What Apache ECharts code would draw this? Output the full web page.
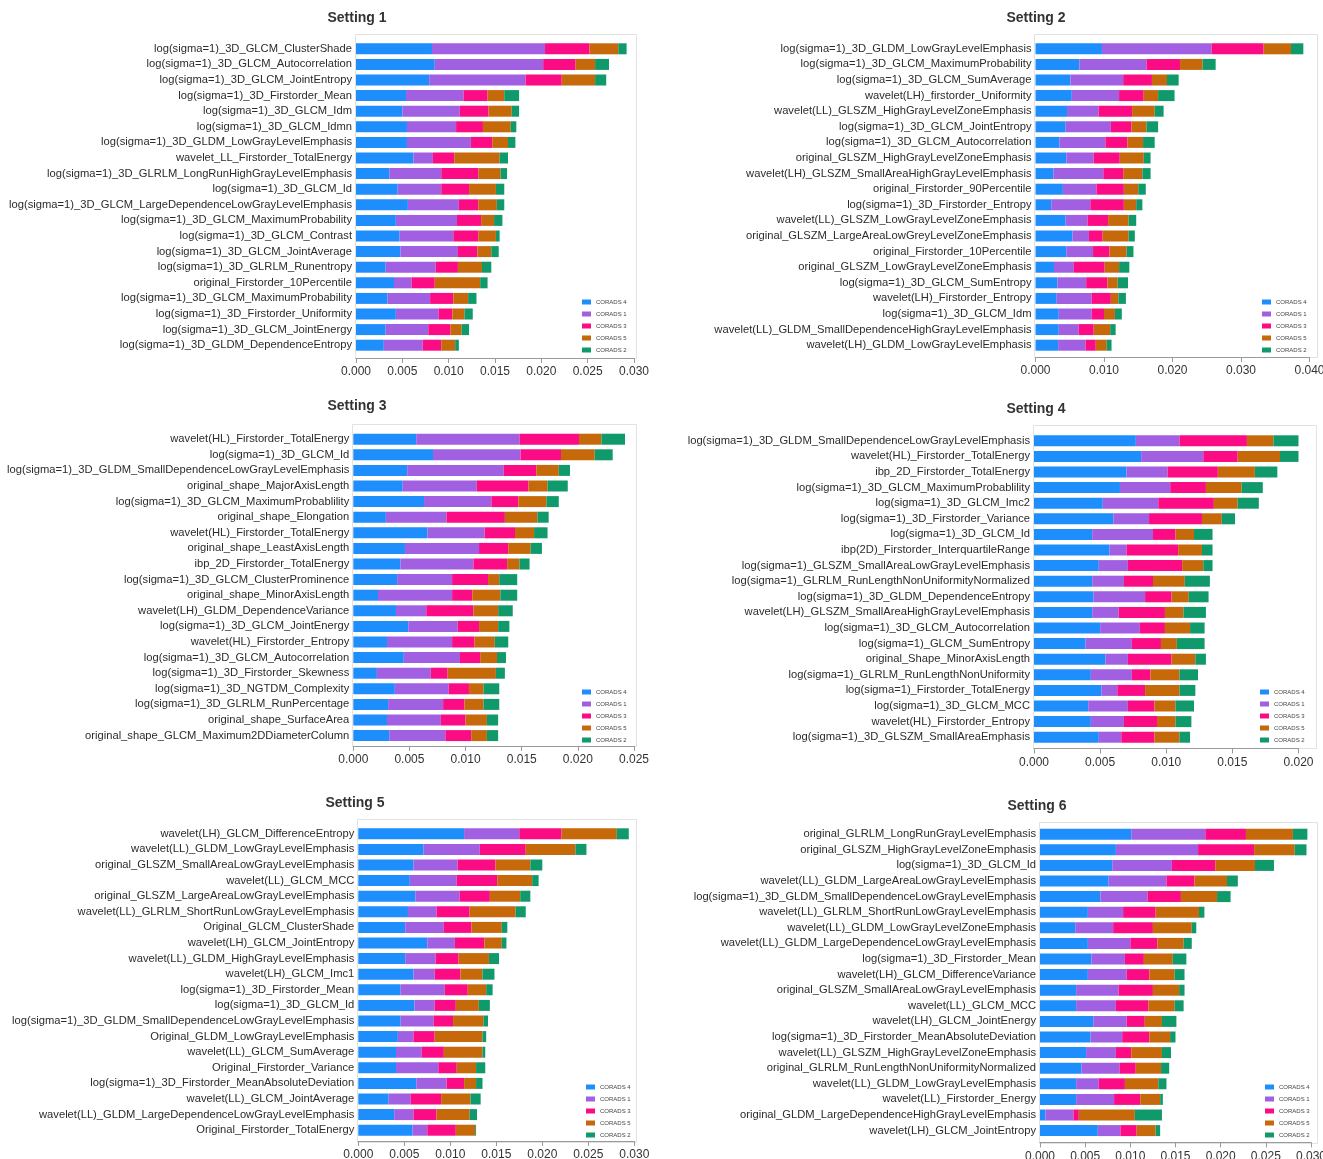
<!DOCTYPE html>
<html>
<head>
<meta charset="utf-8">
<title>CORADS feature contributions</title>
<script src="https://cdn.jsdelivr.net/npm/echarts@6/dist/echarts.min.js"></script>
<style>
  html, body { margin: 0; padding: 0; background: #fff; }
  #chart { width: 1323px; height: 1159px; }
</style>
</head>
<body>
<div id="chart"></div>
<script>
const fontFamily = '"Liberation Sans", Arial, sans-serif';

const seriesNames = ['CORADS 4', 'CORADS 1', 'CORADS 3', 'CORADS 5', 'CORADS 2'];
const seriesColors = ['#1e8efc', '#a15fe2', '#fb0b84', '#c5690b', '#10996b'];

// ---- Setting 1 ----
const s1Labels = [
  'log(sigma=1)_3D_GLCM_ClusterShade',
  'log(sigma=1)_3D_GLCM_Autocorrelation',
  'log(sigma=1)_3D_GLCM_JointEntropy',
  'log(sigma=1)_3D_Firstorder_Mean',
  'log(sigma=1)_3D_GLCM_Idm',
  'log(sigma=1)_3D_GLCM_Idmn',
  'log(sigma=1)_3D_GLDM_LowGrayLevelEmphasis',
  'wavelet_LL_Firstorder_TotalEnergy',
  'log(sigma=1)_3D_GLRLM_LongRunHighGrayLevelEmphasis',
  'log(sigma=1)_3D_GLCM_Id',
  'log(sigma=1)_3D_GLCM_LargeDependenceLowGrayLevelEmphasis',
  'log(sigma=1)_3D_GLCM_MaximumProbability',
  'log(sigma=1)_3D_GLCM_Contrast',
  'log(sigma=1)_3D_GLCM_JointAverage',
  'log(sigma=1)_3D_GLRLM_Runentropy',
  'original_Firstorder_10Percentile',
  'log(sigma=1)_3D_GLCM_MaximumProbability',
  'log(sigma=1)_3D_Firstorder_Uniformity',
  'log(sigma=1)_3D_GLCM_JointEnergy',
  'log(sigma=1)_3D_GLDM_DependenceEntropy'
];
const s1Corads4 = [0.0082, 0.0085, 0.0079, 0.0054, 0.0050, 0.0055, 0.0055, 0.0062, 0.0036, 0.0045, 0.0056, 0.0043, 0.0047, 0.0048, 0.0032, 0.0041, 0.0034, 0.0043, 0.0032, 0.0030];
const s1Corads1 = [0.0122, 0.0117, 0.0104, 0.0062, 0.0062, 0.0053, 0.0069, 0.0021, 0.0056, 0.0047, 0.0055, 0.0066, 0.0058, 0.0062, 0.0054, 0.0019, 0.0046, 0.0046, 0.0046, 0.0042];
const s1Corads3 = [0.0048, 0.0035, 0.0039, 0.0026, 0.0031, 0.0029, 0.0023, 0.0023, 0.0040, 0.0030, 0.0021, 0.0026, 0.0027, 0.0021, 0.0024, 0.0025, 0.0025, 0.0015, 0.0024, 0.0020];
const s1Corads5 = [0.0031, 0.0021, 0.0036, 0.0018, 0.0025, 0.0030, 0.0017, 0.0049, 0.0024, 0.0029, 0.0020, 0.0014, 0.0019, 0.0015, 0.0026, 0.0049, 0.0016, 0.0013, 0.0012, 0.0015];
const s1Corads2 = [0.0009, 0.0015, 0.0012, 0.0016, 0.0008, 0.0006, 0.0008, 0.0009, 0.0007, 0.0009, 0.0008, 0.0009, 0.0004, 0.0008, 0.0010, 0.0008, 0.0009, 0.0009, 0.0008, 0.0004];

// ---- Setting 2 ----
const s2Labels = [
  'log(sigma=1)_3D_GLDM_LowGrayLevelEmphasis',
  'log(sigma=1)_3D_GLCM_MaximumProbability',
  'log(sigma=1)_3D_GLCM_SumAverage',
  'wavelet(LH)_firstorder_Uniformity',
  'wavelet(LL)_GLSZM_HighGrayLevelZoneEmphasis',
  'log(sigma=1)_3D_GLCM_JointEntropy',
  'log(sigma=1)_3D_GLCM_Autocorrelation',
  'original_GLSZM_HighGrayLevelZoneEmphasis',
  'wavelet(LH)_GLSZM_SmallAreaHighGrayLevelEmphasis',
  'original_Firstorder_90Percentile',
  'log(sigma=1)_3D_Firstorder_Entropy',
  'wavelet(LL)_GLSZM_LowGrayLevelZoneEmphasis',
  'original_GLSZM_LargeAreaLowGreyLevelZoneEmphasis',
  'original_Firstorder_10Percentile',
  'original_GLSZM_LowGrayLevelZoneEmphasis',
  'log(sigma=1)_3D_GLCM_SumEntropy',
  'wavelet(LH)_Firstorder_Entropy',
  'log(sigma=1)_3D_GLCM_Idm',
  'wavelet(LL)_GLDM_SmallDependenceHighGrayLevelEmphasis',
  'wavelet(LH)_GLDM_LowGrayLevelEmphasis'
];
const s2Corads4 = [0.0097, 0.0064, 0.0051, 0.0053, 0.0046, 0.0044, 0.0035, 0.0045, 0.0026, 0.0040, 0.0023, 0.0044, 0.0054, 0.0045, 0.0027, 0.0032, 0.0031, 0.0034, 0.0034, 0.0033];
const s2Corads1 = [0.0160, 0.0098, 0.0077, 0.0069, 0.0046, 0.0066, 0.0067, 0.0040, 0.0073, 0.0049, 0.0057, 0.0032, 0.0024, 0.0039, 0.0029, 0.0042, 0.0051, 0.0048, 0.0029, 0.0040];
const s2Corads3 = [0.0076, 0.0049, 0.0042, 0.0036, 0.0049, 0.0030, 0.0032, 0.0038, 0.0029, 0.0040, 0.0049, 0.0030, 0.0020, 0.0024, 0.0045, 0.0031, 0.0028, 0.0018, 0.0022, 0.0015];
const s2Corads5 = [0.0040, 0.0033, 0.0022, 0.0021, 0.0033, 0.0022, 0.0023, 0.0035, 0.0028, 0.0021, 0.0018, 0.0030, 0.0038, 0.0025, 0.0021, 0.0015, 0.0011, 0.0016, 0.0024, 0.0016];
const s2Corads2 = [0.0018, 0.0019, 0.0017, 0.0024, 0.0013, 0.0017, 0.0017, 0.0010, 0.0012, 0.0011, 0.0009, 0.0011, 0.0009, 0.0010, 0.0015, 0.0015, 0.0011, 0.0010, 0.0008, 0.0007];

// ---- Setting 3 ----
const s3Labels = [
  'wavelet(HL)_Firstorder_TotalEnergy',
  'log(sigma=1)_3D_GLCM_Id',
  'log(sigma=1)_3D_GLDM_SmallDependenceLowGrayLevelEmphasis',
  'original_shape_MajorAxisLength',
  'log(sigma=1)_3D_GLCM_MaximumProbablility',
  'original_shape_Elongation',
  'wavelet(HL)_Firstorder_TotalEnergy',
  'original_shape_LeastAxisLength',
  'ibp_2D_Firstorder_TotalEnergy',
  'log(sigma=1)_3D_GLCM_ClusterProminence',
  'original_shape_MinorAxisLength',
  'wavelet(LH)_GLDM_DependenceVariance',
  'log(sigma=1)_3D_GLCM_JointEnergy',
  'wavelet(HL)_Firstorder_Entropy',
  'log(sigma=1)_3D_GLCM_Autocorrelation',
  'log(sigma=1)_3D_Firstorder_Skewness',
  'log(sigma=1)_3D_NGTDM_Complexity',
  'log(sigma=1)_3D_GLRLM_RunPercentage',
  'original_shape_SurfaceArea',
  'original_shape_GLCM_Maximum2DDiameterColumn'
];
const s3Corads4 = [0.0056, 0.0071, 0.0048, 0.0044, 0.0063, 0.0029, 0.0066, 0.0046, 0.0042, 0.0039, 0.0022, 0.0038, 0.0049, 0.0030, 0.0045, 0.0021, 0.0037, 0.0031, 0.0030, 0.0032];
const s3Corads1 = [0.0092, 0.0078, 0.0086, 0.0066, 0.0060, 0.0054, 0.0051, 0.0066, 0.0065, 0.0049, 0.0066, 0.0027, 0.0044, 0.0058, 0.0050, 0.0048, 0.0048, 0.0049, 0.0048, 0.0050];
const s3Corads3 = [0.0053, 0.0036, 0.0029, 0.0046, 0.0024, 0.0052, 0.0027, 0.0026, 0.0030, 0.0032, 0.0018, 0.0042, 0.0019, 0.0020, 0.0018, 0.0015, 0.0018, 0.0019, 0.0022, 0.0023];
const s3Corads5 = [0.0020, 0.0030, 0.0020, 0.0017, 0.0025, 0.0029, 0.0017, 0.0020, 0.0011, 0.0010, 0.0025, 0.0022, 0.0017, 0.0018, 0.0015, 0.0043, 0.0013, 0.0017, 0.0019, 0.0014];
const s3Corads2 = [0.0021, 0.0016, 0.0010, 0.0018, 0.0011, 0.0010, 0.0012, 0.0010, 0.0009, 0.0016, 0.0015, 0.0013, 0.0010, 0.0012, 0.0008, 0.0008, 0.0014, 0.0014, 0.0010, 0.0010];

// ---- Setting 4 ----
const s4Labels = [
  'log(sigma=1)_3D_GLDM_SmallDependenceLowGrayLevelEmphasis',
  'wavelet(HL)_Firstorder_TotalEnergy',
  'ibp_2D_Firstorder_TotalEnergy',
  'log(sigma=1)_3D_GLCM_MaximumProbablility',
  'log(sigma=1)_3D_GLCM_Imc2',
  'log(sigma=1)_3D_Firstorder_Variance',
  'log(sigma=1)_3D_GLCM_Id',
  'ibp(2D)_Firstorder_InterquartileRange',
  'log(sigma=1)_GLSZM_SmallAreaLowGrayLevelEmphasis',
  'log(sigma=1)_GLRLM_RunLengthNonUniformityNormalized',
  'log(sigma=1)_3D_GLDM_DependenceEntropy',
  'wavelet(LH)_GLSZM_SmallAreaHighGrayLevelEmphasis',
  'log(sigma=1)_3D_GLCM_Autocorrelation',
  'log(sigma=1)_GLCM_SumEntropy',
  'original_Shape_MinorAxisLength',
  'log(sigma=1)_GLRLM_RunLengthNonUniformity',
  'log(sigma=1)_Firstorder_TotalEnergy',
  'log(sigma=1)_3D_GLCM_MCC',
  'wavelet(HL)_Firstorder_Entropy',
  'log(sigma=1)_3D_GLSZM_SmallAreaEmphasis'
];
const s4Corads4 = [0.0077, 0.0081, 0.0070, 0.0065, 0.0052, 0.0060, 0.0044, 0.0057, 0.0049, 0.0044, 0.0045, 0.0044, 0.0050, 0.0039, 0.0054, 0.0043, 0.0051, 0.0041, 0.0043, 0.0049];
const s4Corads1 = [0.0033, 0.0047, 0.0031, 0.0038, 0.0042, 0.0027, 0.0046, 0.0013, 0.0022, 0.0024, 0.0039, 0.0020, 0.0030, 0.0035, 0.0017, 0.0031, 0.0012, 0.0030, 0.0025, 0.0017];
const s4Corads3 = [0.0051, 0.0026, 0.0038, 0.0027, 0.0042, 0.0040, 0.0017, 0.0039, 0.0041, 0.0022, 0.0020, 0.0035, 0.0019, 0.0022, 0.0033, 0.0014, 0.0021, 0.0020, 0.0025, 0.0025];
const s4Corads5 = [0.0020, 0.0032, 0.0028, 0.0027, 0.0018, 0.0015, 0.0014, 0.0018, 0.0016, 0.0024, 0.0013, 0.0014, 0.0019, 0.0012, 0.0018, 0.0022, 0.0026, 0.0016, 0.0014, 0.0019];
const s4Corads2 = [0.0022, 0.0017, 0.0017, 0.0016, 0.0016, 0.0010, 0.0014, 0.0008, 0.0007, 0.0019, 0.0015, 0.0017, 0.0011, 0.0021, 0.0008, 0.0014, 0.0012, 0.0014, 0.0012, 0.0008];

// ---- Setting 5 ----
const s5Labels = [
  'wavelet(LH)_GLCM_DifferenceEntropy',
  'wavelet(LL)_GLDM_LowGrayLevelEmphasis',
  'original_GLSZM_SmallAreaLowGrayLevelEmphasis',
  'wavelet(LL)_GLCM_MCC',
  'original_GLSZM_LargeAreaLowGrayLevelEmphasis',
  'wavelet(LL)_GLRLM_ShortRunLowGrayLevelEmphasis',
  'Original_GLCM_ClusterShade',
  'wavelet(LH)_GLCM_JointEntropy',
  'wavelet(LL)_GLDM_HighGrayLevelEmphasis',
  'wavelet(LH)_GLCM_Imc1',
  'log(sigma=1)_3D_Firstorder_Mean',
  'log(sigma=1)_3D_GLCM_Id',
  'log(sigma=1)_3D_GLDM_SmallDependenceLowGrayLevelEmphasis',
  'Original_GLDM_LowGrayLevelEmphasis',
  'wavelet(LL)_GLCM_SumAverage',
  'Original_Firstorder_Variance',
  'log(sigma=1)_3D_Firstorder_MeanAbsoluteDeviation',
  'wavelet(LL)_GLCM_JointAverage',
  'wavelet(LL)_GLDM_LargeDependenceLowGrayLevelEmphasis',
  'Original_Firstorder_TotalEnergy'
];
const s5Corads4 = [0.0115, 0.0071, 0.0060, 0.0056, 0.0062, 0.0054, 0.0051, 0.0075, 0.0051, 0.0060, 0.0046, 0.0061, 0.0046, 0.0043, 0.0041, 0.0041, 0.0063, 0.0033, 0.0039, 0.0059];
const s5Corads1 = [0.0060, 0.0061, 0.0048, 0.0051, 0.0048, 0.0031, 0.0042, 0.0030, 0.0033, 0.0023, 0.0048, 0.0022, 0.0036, 0.0017, 0.0028, 0.0046, 0.0033, 0.0024, 0.0021, 0.0016];
const s5Corads3 = [0.0046, 0.0050, 0.0041, 0.0044, 0.0033, 0.0036, 0.0030, 0.0032, 0.0025, 0.0028, 0.0025, 0.0023, 0.0021, 0.0023, 0.0024, 0.0020, 0.0019, 0.0033, 0.0025, 0.0031];
const s5Corads5 = [0.0060, 0.0054, 0.0038, 0.0038, 0.0033, 0.0050, 0.0033, 0.0019, 0.0033, 0.0024, 0.0020, 0.0025, 0.0033, 0.0052, 0.0042, 0.0021, 0.0013, 0.0032, 0.0036, 0.0021];
const s5Corads2 = [0.0013, 0.0012, 0.0013, 0.0007, 0.0011, 0.0011, 0.0006, 0.0005, 0.0011, 0.0013, 0.0007, 0.0012, 0.0005, 0.0004, 0.0003, 0.0010, 0.0007, 0.0011, 0.0008, 0.0001];

// ---- Setting 6 ----
const s6Labels = [
  'original_GLRLM_LongRunGrayLevelEmphasis',
  'original_GLSZM_HighGrayLevelZoneEmphasis',
  'log(sigma=1)_3D_GLCM_Id',
  'wavelet(LL)_GLDM_LargeAreaLowGrayLevelEmphasis',
  'log(sigma=1)_3D_GLDM_SmallDependenceLowGrayLevelEmphasis',
  'wavelet(LL)_GLRLM_ShortRunLowGrayLevelEmphasis',
  'wavelet(LL)_GLDM_LowGrayLevelZoneEmphasis',
  'wavelet(LL)_GLDM_LargeDependenceLowGrayLevelEmphasis',
  'log(sigma=1)_3D_Firstorder_Mean',
  'wavelet(LH)_GLCM_DifferenceVariance',
  'original_GLSZM_SmallAreaLowGrayLevelEmphasis',
  'wavelet(LL)_GLCM_MCC',
  'wavelet(LH)_GLCM_JointEnergy',
  'log(sigma=1)_3D_Firstorder_MeanAbsoluteDeviation',
  'wavelet(LL)_GLSZM_HighGrayLevelZoneEmphasis',
  'original_GLRLM_RunLengthNonUniformityNormalized',
  'wavelet(LL)_GLDM_LowGrayLevelEmphasis',
  'wavelet(LL)_Firstorder_Energy',
  'original_GLDM_LargeDependenceHighGrayLevelEmphasis',
  'wavelet(LH)_GLCM_JointEntropy'
];
const s6Corads4 = [0.0101, 0.0084, 0.0080, 0.0076, 0.0067, 0.0053, 0.0039, 0.0053, 0.0057, 0.0053, 0.0040, 0.0040, 0.0059, 0.0056, 0.0051, 0.0046, 0.0040, 0.0040, 0.0006, 0.0064];
const s6Corads1 = [0.0082, 0.0091, 0.0066, 0.0064, 0.0052, 0.0039, 0.0042, 0.0047, 0.0037, 0.0043, 0.0047, 0.0044, 0.0037, 0.0035, 0.0033, 0.0042, 0.0025, 0.0042, 0.0031, 0.0025];
const s6Corads3 = [0.0045, 0.0062, 0.0048, 0.0031, 0.0037, 0.0036, 0.0044, 0.0030, 0.0021, 0.0025, 0.0038, 0.0036, 0.0020, 0.0030, 0.0017, 0.0018, 0.0029, 0.0029, 0.0006, 0.0018];
const s6Corads5 = [0.0052, 0.0045, 0.0044, 0.0036, 0.0040, 0.0048, 0.0043, 0.0029, 0.0032, 0.0028, 0.0029, 0.0029, 0.0019, 0.0023, 0.0034, 0.0028, 0.0037, 0.0022, 0.0062, 0.0021];
const s6Corads2 = [0.0016, 0.0013, 0.0021, 0.0012, 0.0015, 0.0006, 0.0005, 0.0009, 0.0015, 0.0011, 0.0006, 0.0010, 0.0016, 0.0006, 0.0010, 0.0009, 0.0009, 0.0003, 0.0030, 0.0005];

// panel content
const panels = [
  { title: 'Setting 1', labels: s1Labels, values: [s1Corads4, s1Corads1, s1Corads3, s1Corads5, s1Corads2], max: 0.03, interval: 0.005 },
  { title: 'Setting 2', labels: s2Labels, values: [s2Corads4, s2Corads1, s2Corads3, s2Corads5, s2Corads2], max: 0.04, interval: 0.01 },
  { title: 'Setting 3', labels: s3Labels, values: [s3Corads4, s3Corads1, s3Corads3, s3Corads5, s3Corads2], max: 0.025, interval: 0.005 },
  { title: 'Setting 4', labels: s4Labels, values: [s4Corads4, s4Corads1, s4Corads3, s4Corads5, s4Corads2], max: 0.02, interval: 0.005 },
  { title: 'Setting 5', labels: s5Labels, values: [s5Corads4, s5Corads1, s5Corads3, s5Corads5, s5Corads2], max: 0.03, interval: 0.005 },
  { title: 'Setting 6', labels: s6Labels, values: [s6Corads4, s6Corads1, s6Corads3, s6Corads5, s6Corads2], max: 0.03, interval: 0.005 }
];

// panel placement (pixels)
const layouts = [
  { left: 356, width: 278, top: 41, offset: 5, titleX: 357, titleY: 11, legendX: 582, legendY: 299, frame: [355, 34, 636, 358] },
  { left: 1035.5, width: 274, top: 41, offset: 4, titleX: 1036, titleY: 11, legendX: 1262, legendY: 299, frame: [1034, 34, 1317, 357] },
  { left: 353.3, width: 280.7, top: 431.4, offset: 2.5, titleX: 357, titleY: 399, legendX: 582, legendY: 689, frame: [352, 424, 636, 746] },
  { left: 1034, width: 264.5, top: 433, offset: 3.5, titleX: 1036, titleY: 402, legendX: 1260, legendY: 689, frame: [1033, 425, 1316, 748] },
  { left: 358.3, width: 276, top: 826, offset: 3, titleX: 355, titleY: 796, legendX: 586, legendY: 1084, frame: [357, 819, 636, 1142] },
  { left: 1040, width: 271, top: 826.4, offset: 4, titleX: 1037, titleY: 799, legendX: 1265, legendY: 1084, frame: [1039, 822, 1317, 1143] }
];

const series = [];
panels.forEach((p, i) => {
  p.values.forEach((vals, k) => {
    series.push({
      name: seriesNames[k],
      type: 'bar',
      stack: 'setting' + i,
      xAxisIndex: i,
      yAxisIndex: i,
      data: vals,
      barWidth: 11,
      itemStyle: { color: seriesColors[k] },
      emphasis: { disabled: true }
    });
  });
});

const option = {
  animation: false,
  backgroundColor: '#fff',
  textStyle: { fontFamily },
  title: panels.map((p, i) => ({
    text: p.title,
    left: layouts[i].titleX,
    top: layouts[i].titleY,
    textAlign: 'center',
    padding: 0,
    textStyle: { fontSize: 14, fontWeight: 'bold', color: '#333', fontFamily }
  })),
  legend: layouts.map((l) => ({
    data: seriesNames,
    orient: 'vertical',
    left: l.legendX,
    top: l.legendY,
    padding: 0,
    itemWidth: 9,
    itemHeight: 5,
    itemGap: 6,
    icon: 'rect',
    selectedMode: false,
    textStyle: { fontSize: 6, lineHeight: 6, color: '#444', fontFamily }
  })),
  grid: layouts.map((l) => ({
    left: l.left,
    top: l.top,
    width: l.width,
    height: 312,
    containLabel: false,
    outerBoundsMode: 'none'
  })),
  xAxis: panels.map((p, i) => ({
    type: 'value',
    gridIndex: i,
    min: 0,
    max: p.max,
    interval: p.interval,
    offset: layouts[i].offset,
    axisLine: { show: true, lineStyle: { color: '#9a9a9a' } },
    axisTick: { show: true, length: 5, lineStyle: { color: '#9a9a9a' } },
    axisLabel: { fontSize: 12, color: '#333', margin: 8, formatter: (v) => v.toFixed(3), fontFamily },
    splitLine: { show: false }
  })),
  yAxis: panels.map((p, i) => ({
    type: 'category',
    gridIndex: i,
    data: p.labels,
    inverse: true,
    axisLine: { show: false },
    axisTick: { show: false },
    axisLabel: { fontSize: 11.2, color: '#2b2b2b', margin: 4, interval: 0, fontFamily }
  })),
  graphic: {
    elements: layouts.map((l) => ({
      type: 'rect',
      silent: true,
      z: -1,
      shape: { x: l.frame[0] + 0.5, y: l.frame[1] + 0.5, width: l.frame[2] - l.frame[0], height: l.frame[3] - l.frame[1] },
      style: { fill: 'none', stroke: '#e2e2e2', lineWidth: 1 }
    }))
  },
  series
};

const chart = echarts.init(document.getElementById('chart'), null, { renderer: 'canvas' });
chart.setOption(option);
</script>
</body>
</html>
